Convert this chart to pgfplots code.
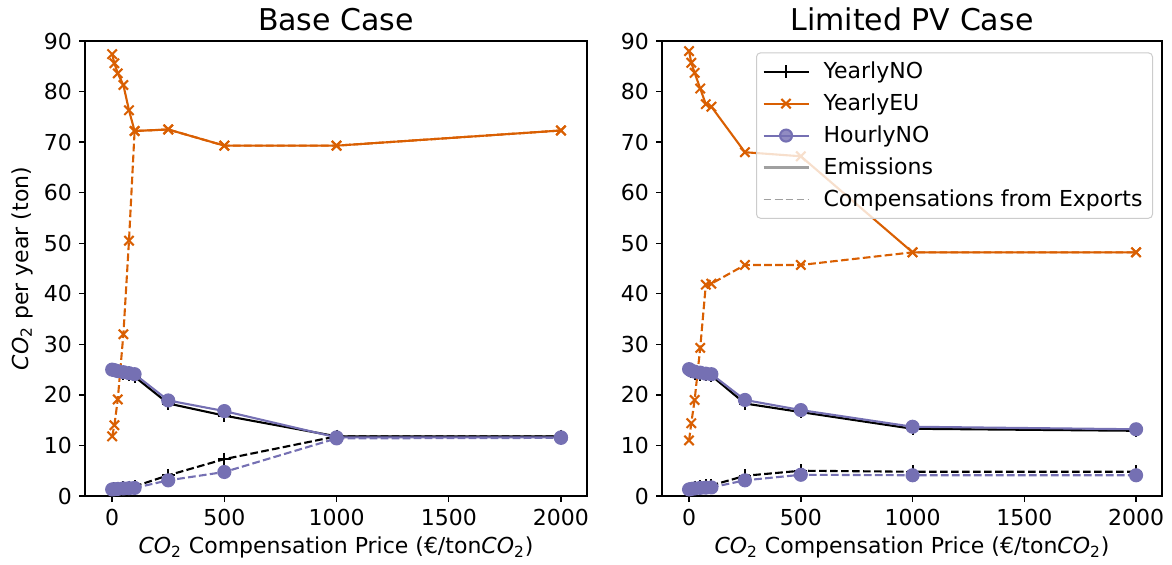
\documentclass[border=0pt]{standalone}
\usepackage{pgfplots}
\usepackage{pgfplotstable}
\pgfplotsset{compat=1.18}
\usepackage{fontspec}
\setmainfont{DejaVu Sans}
\definecolor{dorange}{HTML}{D95F02}
\definecolor{dpurple}{HTML}{7570B3}
\definecolor{lgray}{HTML}{A0A0A0}
\definecolor{lframe}{HTML}{CCCCCC}
\newcommand{\COt}{\textit{CO}\textsubscript{2}}

\pgfplotstableread{
x ynoE ynoC yeuE yeuC hnoE hnoC
0 25.0 1.4 87.4 11.8 25.0 1.3
10 24.8 1.5 85.6 14.0 24.9 1.35
25 24.6 1.6 83.6 19.1 24.7 1.4
50 24.3 1.7 81.3 32.0 24.5 1.5
75 24.0 1.8 76.3 50.5 24.3 1.55
100 23.6 1.9 72.2 72.2 24.1 1.6
250 18.3 4.1 72.5 72.5 18.9 3.1
500 15.9 7.3 69.3 69.3 16.8 4.75
1000 11.8 11.8 69.3 69.3 11.6 11.4
2000 11.8 11.8 72.3 72.3 11.6 11.5
}\basecase

\pgfplotstableread{
x ynoE ynoC yeuE yeuC hnoE hnoC
0 25.0 1.4 88.0 11.0 25.1 1.3
10 24.6 1.6 85.7 14.4 24.8 1.4
25 24.3 1.8 83.7 19.0 24.6 1.5
50 24.1 1.9 80.6 29.3 24.4 1.6
75 24.0 2.0 77.5 41.8 24.2 1.65
100 23.8 2.1 77.0 42.0 24.1 1.7
250 18.3 4.0 68.0 45.7 19.0 3.1
500 16.6 5.0 67.2 45.7 17.0 4.2
1000 13.3 4.8 48.2 48.2 13.7 4.1
2000 12.9 4.8 48.2 48.2 13.2 4.1
}\limitedcase

\pgfplotsset{
  legend image code/.code={\draw[mark repeat=2,mark phase=2,#1] plot coordinates {(0pt,0pt) (11.25pt,0pt) (22.5pt,0pt)};},
  myaxis/.style={
    scale only axis, width=251pt, height=227.5pt,
    xmin=-121, xmax=2116, ymin=0, ymax=90,
    xtick={0,500,1000,1500,2000}, ytick={0,10,...,90},
    xtick pos=lower, ytick pos=left,
    tick align=outside, major tick length=3pt,
    tick style={black, line width=0.7pt},
    axis line style={line width=0.85pt},
    /pgf/number format/assume math mode=true,
    /pgf/number format/1000 sep={},
    tick label style={font=\fontsize{11}{13}\selectfont},
    label style={font=\fontsize{11}{13}\selectfont},
    title style={font=\fontsize{15}{18}\selectfont, at={(0.5,1)}, anchor=base, yshift=-0.5pt},
    xlabel style={at={(axis description cs:0.5,-0.114)}, anchor=center},
    xlabel={\COt{} Compensation Price (€/ton\COt)},
  },
  emis/.style={line width=1.05pt, solid},
  comp/.style={line width=1.05pt, dash pattern=on 3.85pt off 1.65pt},
  ser1/.style={black, mark=+, mark size=3.2pt, mark options={solid}},
  ser2/.style={dorange, mark=x, mark size=3.3pt, mark options={solid}},
  ser3/.style={dpurple, mark=*, mark size=3pt, mark options={solid, fill=dpurple, draw=dpurple}},
}

\begin{document}
\begin{tikzpicture}
\path[use as bounding box] (0,0) rectangle (586pt,282pt);

\begin{axis}[myaxis, at={(42.5pt,34pt)}, anchor=south west,
  title={Base Case},
  ylabel={\COt{} per year (ton)},
  ylabel style={at={(axis description cs:-0.1255,0.5)}, anchor=center, rotate=0},
]
\addplot[ser1, emis] table[x=x, y=ynoE] {\basecase};
\addplot[ser1, comp] table[x=x, y=ynoC] {\basecase};
\addplot[ser2, emis] table[x=x, y=yeuE] {\basecase};
\addplot[ser2, comp] table[x=x, y=yeuC] {\basecase};
\addplot[ser3, emis] table[x=x, y=hnoE] {\basecase};
\addplot[ser3, comp] table[x=x, y=hnoC] {\basecase};
\end{axis}

\begin{axis}[myaxis, at={(331pt,34pt)}, anchor=south west,
  width=250pt,
  title={Limited PV Case},
  legend style={at={(0.982,0.975)}, anchor=north east,
    draw=lframe, fill=white, fill opacity=0.8, text opacity=1, draw opacity=1,
    rounded corners=2pt, line width=0.5pt,
    font=\fontsize{11}{13}\selectfont,
    inner xsep=3pt, inner ysep=2.5pt, row sep=2.1pt,
    /tikz/every odd column/.append style={column sep=5pt}},
  legend cell align=left,
]
\addplot[ser1, emis, forget plot] table[x=x, y=ynoE] {\limitedcase};
\addplot[ser1, comp, forget plot] table[x=x, y=ynoC] {\limitedcase};
\addplot[ser2, emis, forget plot] table[x=x, y=yeuE] {\limitedcase};
\addplot[ser2, comp, forget plot] table[x=x, y=yeuC] {\limitedcase};
\addplot[ser3, emis, forget plot] table[x=x, y=hnoE] {\limitedcase};
\addplot[ser3, comp, forget plot] table[x=x, y=hnoC] {\limitedcase};
\addlegendimage{ser1, emis}
\addlegendentry{YearlyNO}
\addlegendimage{ser2, emis}
\addlegendentry{YearlyEU}
\addlegendimage{ser3, emis}
\addlegendentry{HourlyNO}
\addlegendimage{lgray, line width=1.05pt, solid}
\addlegendentry{Emissions}
\addlegendimage{lgray, line width=0.8pt, dash pattern=on 3.85pt off 1.65pt}
\addlegendentry{Compensations from Exports}
\end{axis}
\end{tikzpicture}
\end{document}
